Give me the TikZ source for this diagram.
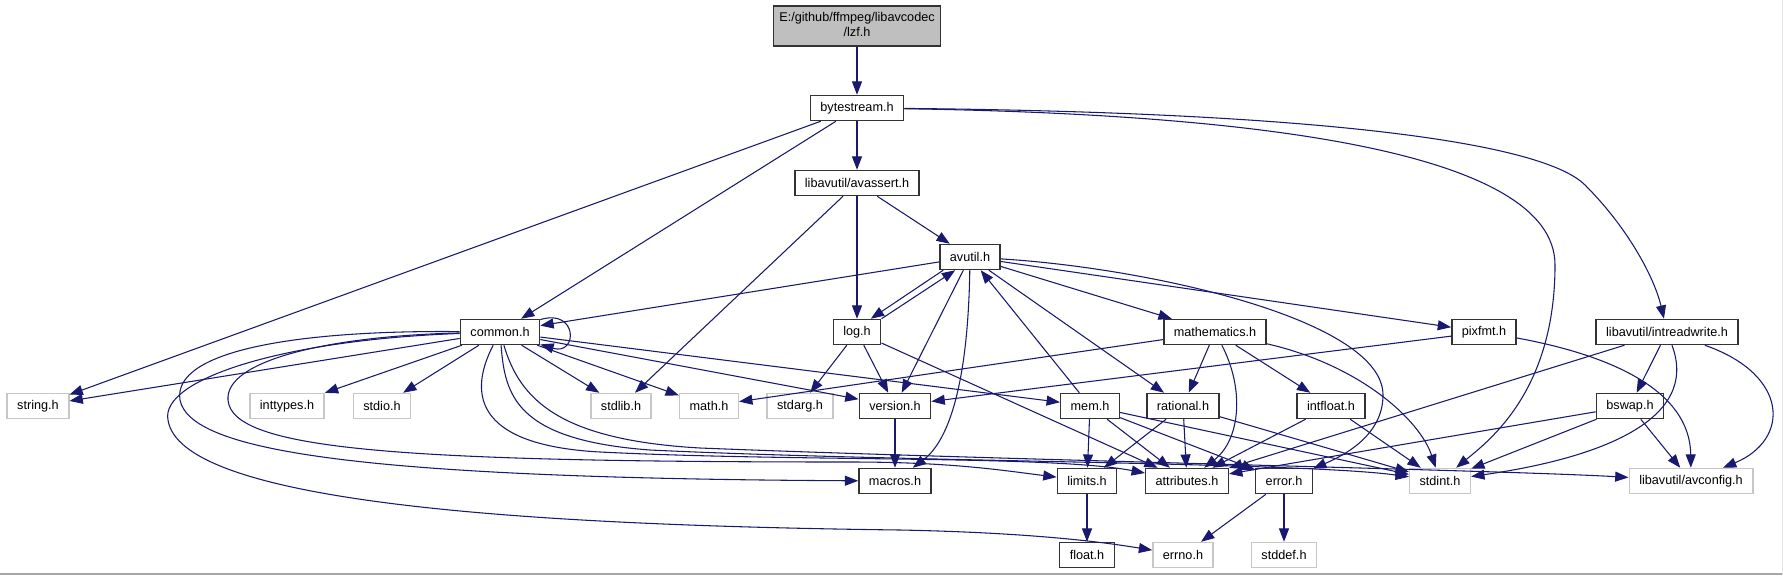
\documentclass[tikz,border=0pt]{standalone}
\usepackage{fontspec}
\setmainfont{Liberation Sans}
\usetikzlibrary{arrows.meta}
\definecolor{edgeblue}{HTML}{191970}

\begin{document}
\begin{tikzpicture}[
        x=0.75pt, y=-0.75pt,
        hdr/.style={draw=black!80, line width=1.1pt, fill=white, font={\fontsize{9.5}{11.25}\selectfont},
                    minimum height=18.75pt, inner xsep=7.5pt, inner ysep=2pt},
        syshdr/.style={hdr, draw=black!22},
        mainhdr/.style={hdr, fill=black!25, inner xsep=4.5pt, minimum height=30pt},
        arr/.style={-{Triangle[length=10pt, width=7.5pt]}, draw=edgeblue, line width=0.8pt}
    ]
        \useasboundingbox[fill=white] (0,0) rectangle (1783,575);
        \draw[black!35, line width=1.5pt] (0,574) -- (1783,574);
        \draw[black!10] (1782.5,0) -- (1782.5,575);

        \node[mainhdr] (lzf)          at ( 857,  26) {\begin{tabular}{@{}c@{}}E:/github/ffmpeg/libavcodec\\/lzf.h\end{tabular}};
        \node[hdr]     (bytestream)   at ( 857, 108) {bytestream.h};
        \node[hdr]     (avassert)     at ( 857, 183) {libavutil/avassert.h};
        \node[hdr]     (avutil)       at ( 970, 257) {avutil.h};

        \node[hdr]     (common)       at ( 500, 332) {common.h};
        \node[hdr]     (logh)         at ( 857, 332) {log.h};
        \node[hdr]     (mathematics)  at (1215, 332) {mathematics.h};
        \node[hdr]     (pixfmt)       at (1484, 332) {pixfmt.h};
        \node[hdr]     (intreadwrite) at (1667, 332) {libavutil/intreadwrite.h};

        \node[syshdr]  (stringh)      at (  38, 406) {string.h};
        \node[syshdr]  (inttypes)     at ( 287, 406) {inttypes.h};
        \node[syshdr]  (stdioh)       at ( 382, 406) {stdio.h};
        \node[syshdr]  (stdlibh)      at ( 621, 406) {stdlib.h};
        \node[syshdr]  (mathh)        at ( 709, 406) {math.h};
        \node[syshdr]  (stdarg)       at ( 800, 406) {stdarg.h};
        \node[hdr]     (version)      at ( 895, 406) {version.h};
        \node[hdr]     (mem)          at (1090, 406) {mem.h};
        \node[hdr]     (rational)     at (1183, 406) {rational.h};
        \node[hdr]     (intfloat)     at (1331, 406) {intfloat.h};
        \node[hdr]     (bswap)        at (1630, 406) {bswap.h};

        \node[hdr]     (macros)       at ( 895, 481) {macros.h};
        \node[hdr]     (limits)       at (1087, 481) {limits.h};
        \node[hdr]     (attributes)   at (1187, 481) {attributes.h};
        \node[hdr]     (errorh)       at (1284, 481) {error.h};
        \node[syshdr]  (stdint)       at (1440, 481) {stdint.h};
        \node[syshdr]  (avconfig)     at (1691, 481) {libavutil/avconfig.h};

        \node[hdr]     (floath)       at (1087, 555) {float.h};
        \node[syshdr]  (errno)        at (1183, 555) {errno.h};
        \node[syshdr]  (stddef)       at (1284, 555) {stddef.h};

        \draw[arr] (lzf) -- (bytestream);
        \draw[arr] (bytestream) -- (avassert);
        \draw[arr] (bytestream) -- (common);
        \draw[arr] (bytestream) -- (stringh);
        \draw[arr] (bytestream) .. controls (1250,114) and (1555,150) .. (1555,265)
                                .. controls (1555,390) and (1490,440) .. (stdint);
        \draw[arr] (bytestream) .. controls (1300,112) and (1540,140) .. (1585,185)
                                .. controls (1630,230) and (1655,280) .. (intreadwrite);

        \draw[arr] (avassert) -- (avutil);
        \draw[arr] (avassert) -- (logh);
        \draw[arr] (avassert) -- (stdlibh);

        \draw[arr] (avutil) -- (common);
        \draw[arr] ([xshift=3pt]avutil.south west) -- ([xshift=-8pt]logh.north east);
        \draw[arr] (logh.north east) -- ([xshift=12pt]avutil.south west);
        \draw[arr] (avutil) -- (version);
        \draw[arr] (avutil) .. controls (968,380) and (950,440) .. (macros);
        \draw[arr] (mem) -- (avutil);
        \draw[arr] (avutil) -- (rational);
        \draw[arr] (avutil) -- (mathematics);
        \draw[arr] (avutil) -- (pixfmt);
        \draw[arr] (avutil) .. controls (1150,268) and (1383,320) .. (1383,395)
                            .. controls (1383,435) and (1345,455) .. (errorh);

        \draw[arr] (logh) -- (stdarg);
        \draw[arr] (logh) -- (version);
        \draw[arr] (logh) -- (attributes);

        \draw[arr] (common) .. controls (578,308) and (578,356) .. (common);
        \draw[arr] (common) -- (stringh);
        \draw[arr] (common) -- (inttypes);
        \draw[arr] (common) -- (stdioh);
        \draw[arr] (common) -- (stdlibh);
        \draw[arr] (common) -- (mathh);
        \draw[arr] (common) -- (version);
        \draw[arr] (common) -- (mem);
        \draw[arr] (common) .. controls (300,330) and (172,350) .. (180,400)
                            .. controls (190,450) and (350,478) .. (macros);
        \draw[arr] (common) .. controls (330,336) and (225,360) .. (228,400)
                            .. controls (232,450) and (400,462) .. (850,462)
                            .. controls (950,462) and (1000,470) .. (limits);
        \draw[arr] (common) .. controls (280,340) and (160,380) .. (168,420)
                            .. controls (180,500) and (500,525) .. (900,530)
                            .. controls (1050,533) and (1120,545) .. (errno);
        \draw[arr] (common) .. controls (470,390) and (470,445) .. (600,452)
                            .. controls (800,462) and (1050,455) .. (attributes);
        \draw[arr] (common) .. controls (505,395) and (515,440) .. (650,450)
                            .. controls (900,462) and (1300,462) .. (stdint);
        \draw[arr] (common) .. controls (520,400) and (560,440) .. (700,448)
                            .. controls (1000,460) and (1500,470) .. (avconfig);

        \draw[arr] (mathematics) -- (mathh);
        \draw[arr] (mathematics) -- (rational);
        \draw[arr] (mathematics) .. controls (1245,390) and (1240,440) .. (attributes);
        \draw[arr] (mathematics) -- (intfloat);
        \draw[arr] (mathematics) .. controls (1360,365) and (1420,420) .. (stdint);

        \draw[arr] (pixfmt) -- (version);
        \draw[arr] (pixfmt) .. controls (1610,355) and (1690,390) .. (avconfig);

        \draw[arr] (intreadwrite) -- (attributes);
        \draw[arr] (intreadwrite) -- (bswap);
        \draw[arr] (intreadwrite) .. controls (1700,420) and (1600,458) .. (stdint);
        \draw[arr] (intreadwrite) .. controls (1790,375) and (1790,440) .. (avconfig);

        \draw[arr] (bswap) -- (attributes);
        \draw[arr] (bswap) -- (stdint);
        \draw[arr] (bswap) -- (avconfig);

        \draw[arr] (mem) -- (limits);
        \draw[arr] (mem) -- (attributes);
        \draw[arr] (mem) -- (errorh);
        \draw[arr] (mem) -- (stdint);

        \draw[arr] (rational) -- (limits);
        \draw[arr] (rational) -- (attributes);
        \draw[arr] (rational) -- (stdint);

        \draw[arr] (intfloat) -- (attributes);
        \draw[arr] (intfloat) -- (stdint);

        \draw[arr] (version) -- (macros);
        \draw[arr] (limits) -- (floath);
        \draw[arr] (errorh) -- (errno);
        \draw[arr] (errorh) -- (stddef);
    \end{tikzpicture}
\end{document}
